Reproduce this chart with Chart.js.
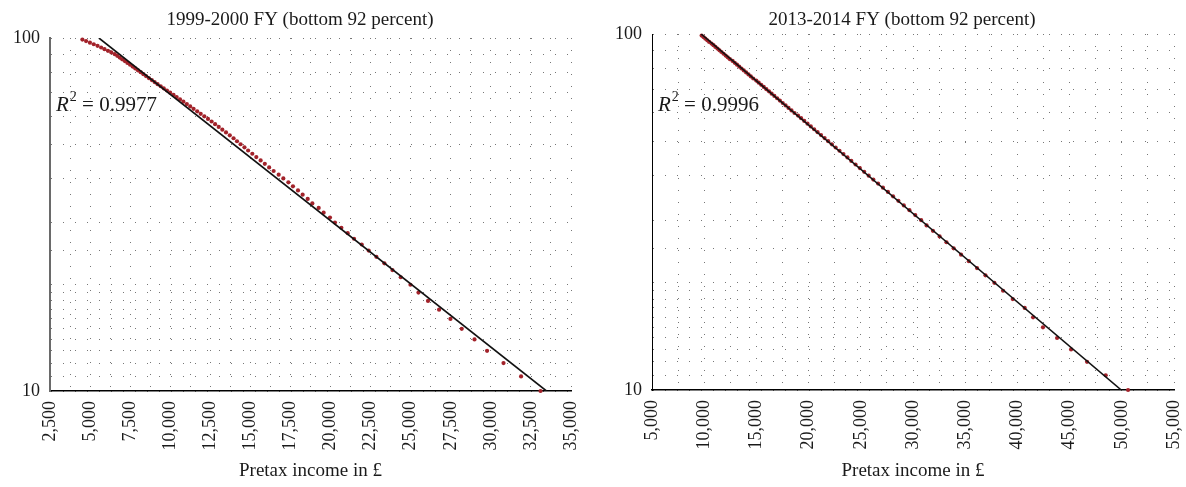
<!DOCTYPE html>
<html>
<head>
<meta charset="utf-8">
<script src="https://cdn.jsdelivr.net/npm/chart.js@4.4.1/dist/chart.umd.min.js"></script>
<style>
   html, body { margin: 0; padding: 0; background: #fff; }
   .box { position: absolute; top: 0; width: 593px; height: 487px; }
   #box_left { left: 0; }
   #box_right { left: 593px; }
</style>
</head>
<body>
<div class="box" id="box_left"><canvas id="chart_left"></canvas></div>
<div class="box" id="box_right"><canvas id="chart_right"></canvas></div>
<script>
// percent of taxpayers (y) and pretax income in pounds (x)
var percent = [99, 98, 97, 96, 95, 94, 93, 92, 91, 90,
   89, 88, 87, 86, 85, 84, 83, 82, 81, 80,
   79, 78, 77, 76, 75, 74, 73, 72, 71, 70,
   69, 68, 67, 66, 65, 64, 63, 62, 61, 60,
   59, 58, 57, 56, 55, 54, 53, 52, 51, 50,
   49, 48, 47, 46, 45, 44, 43, 42, 41, 40,
   39, 38, 37, 36, 35, 34, 33, 32, 31, 30,
   29, 28, 27, 26, 25, 24, 23, 22, 21, 20,
   19, 18, 17, 16, 15, 14, 13, 12, 11, 10];

var income_1999 = [4520, 4750, 4990, 5230, 5465, 5690, 5900, 6115, 6325, 6540,
   6695, 6850, 7005, 7170, 7330, 7495, 7655, 7820, 7985, 8155,
   8325, 8490, 8665, 8850, 9025, 9210, 9405, 9595, 9795, 9995,
   10205, 10400, 10610, 10820, 11035, 11245, 11455, 11680, 11900, 12125,
   12355, 12580, 12800, 13025, 13250, 13480, 13715, 13950, 14165, 14390,
   14630, 14860, 15120, 15370, 15640, 15900, 16170, 16450, 16765, 17055,
   17370, 17655, 17970, 18260, 18575, 18865, 19260, 19570, 19965, 20275,
   20675, 21070, 21465, 21945, 22380, 22860, 23360, 23860, 24380, 24985,
   25485, 26080, 26770, 27480, 28185, 28980, 29765, 30790, 31885, 33100];

var income_2013 = [9755, 9933, 10113, 10294, 10477, 10700, 10890, 11075, 11270, 11460,
   11655, 11855, 12055, 12255, 12460, 12720, 12925, 13140, 13355, 13570,
   13790, 14015, 14240, 14465, 14700, 14985, 15220, 15460, 15705, 15955,
   16205, 16460, 16720, 16985, 17250, 17520, 17795, 18075, 18360, 18650,
   18985, 19280, 19585, 19895, 20210, 20530, 20860, 21190, 21530, 21875,
   22230, 22590, 22960, 23335, 23720, 24090, 24495, 24905, 25325, 25755,
   26200, 26655, 27120, 27600, 28090, 28600, 29120, 29660, 30215, 30785,
   31300, 31910, 32550, 33205, 33895, 34605, 35350, 36130, 36940, 37795,
   38630, 39555, 40700, 41500, 42450, 43800, 45140, 46670, 48460, 50600];

// fitted trend lines, end points
var trend_1999_x = [5550, 33470];
var trend_2013_x = [9700, 49950];
var trend_y = [100, 10];

var r2_1999 = "0.9977";
var r2_2013 = "0.9996";

var title_1999 = "1999-2000 FY (bottom 92 percent)";
var title_2013 = "2013-2014 FY (bottom 92 percent)";
var x_title = "Pretax income in \u00a3";

var text_color = '#1a1a1a';
var serif = '"Liberation Serif", "DejaVu Serif", serif';

function to_points(xs, ys) {
   var pts = [];
   for (var i = 0; i < xs.length; ++i) {
      pts.push({x: xs[i], y: ys[i]});
   }
   return pts;
}

// title above the plot and the R^2 note
var text_plugin = {
   id: 'text_plugin',
   afterDraw: function (chart, args, o) {
      var ctx = chart.ctx;
      var area = chart.chartArea;
      ctx.save();
      ctx.fillStyle = text_color;
      ctx.textBaseline = 'alphabetic';
      ctx.font = '19px ' + serif;
      ctx.textAlign = 'center';
      ctx.fillText(o.title, area.left + 250, 25);

      ctx.textAlign = 'left';
      var x = area.left + 6;
      var y = 111;
      ctx.font = 'italic 21px ' + serif;
      ctx.fillText('R', x, y);
      x += ctx.measureText('R').width + 1;
      ctx.font = '14px ' + serif;
      ctx.fillText('2', x, y - 10);
      x += ctx.measureText('2').width;
      ctx.font = '21px ' + serif;
      ctx.fillText(' = ' + o.r2, x, y);
      ctx.restore();
   }
};

function plot_chart(id, cfg) {
   const ctx = document.getElementById(id);
   const data = {
      datasets: [{
         data: to_points(cfg.trend_x, trend_y),
         showLine: true,
         borderColor: '#111',
         borderWidth: 1.6,
         pointRadius: 0,
         fill: false
      }, {
         data: to_points(cfg.income, percent),
         pointRadius: 2.1,
         pointBackgroundColor: '#a2222a',
         pointBorderWidth: 0,
         clip: false
      }]
   };
   const config = {
      type: 'scatter',
      data: data,
      plugins: [text_plugin],
      options: {
         responsive: true,
         maintainAspectRatio: false,
         animation: false,
         layout: {
            padding: {top: cfg.top, right: cfg.right, left: 0, bottom: 0}
         },
         plugins: {
            legend: {display: false},
            tooltip: {enabled: false},
            text_plugin: {title: cfg.title, r2: cfg.r2}
         },
         scales: {
            x: {
               type: 'linear',
               min: cfg.x_min,
               max: cfg.x_max,
               afterFit: function (scale) {
                  scale.height = cfg.x_height;
                  scale.paddingLeft = 0;
                  scale.paddingRight = 0;
               },
               grid: {color: '#777', lineWidth: 1, drawTicks: false},
               border: {color: '#000', width: 1.5, dash: [1, 11]},
               ticks: {
                  stepSize: cfg.x_step,
                  autoSkip: false,
                  minRotation: 90,
                  maxRotation: 90,
                  padding: 10,
                  color: text_color,
                  font: {family: serif, size: 18},
                  callback: function (v) {
                     return v % cfg.label_step === 0 ? v.toLocaleString('en-US') : '';
                  }
               },
               title: {
                  display: true,
                  text: x_title,
                  color: text_color,
                  font: {family: serif, size: 19},
                  padding: {top: 0, bottom: 5}
               }
            },
            y: {
               type: 'logarithmic',
               min: 10,
               max: 100,
               afterFit: function (scale) {
                  scale.width = cfg.y_width;
                  scale.paddingTop = 0;
                  scale.paddingBottom = 0;
               },
               grid: {color: '#777', lineWidth: 1, drawTicks: false},
               border: {color: cfg.y_axis_color, width: cfg.y_axis_width, dash: [1, 11]},
               ticks: {
                  autoSkip: false,
                  padding: 10,
                  color: text_color,
                  font: {family: serif, size: 18},
                  callback: function (v) {
                     return (v === 10 || v === 100) ? String(v) : '';
                  }
               }
            }
         }
      }
   };
   return new Chart(ctx, config);
}

plot_chart('chart_left', {
   income: income_1999, trend_x: trend_1999_x, title: title_1999, r2: r2_1999,
   x_min: 2500, x_max: 35000, x_step: 1250, label_step: 2500,
   top: 38, right: 22, x_height: 96, y_width: 50,
   y_axis_color: '#6a6a6a', y_axis_width: 2
});

plot_chart('chart_right', {
   income: income_2013, trend_x: trend_2013_x, title: title_2013, r2: r2_2013,
   x_min: 5000, x_max: 55000, x_step: 2500, label_step: 5000,
   top: 34, right: 12, x_height: 97, y_width: 59,
   y_axis_color: '#000', y_axis_width: 1
});
</script>
</body>
</html>
